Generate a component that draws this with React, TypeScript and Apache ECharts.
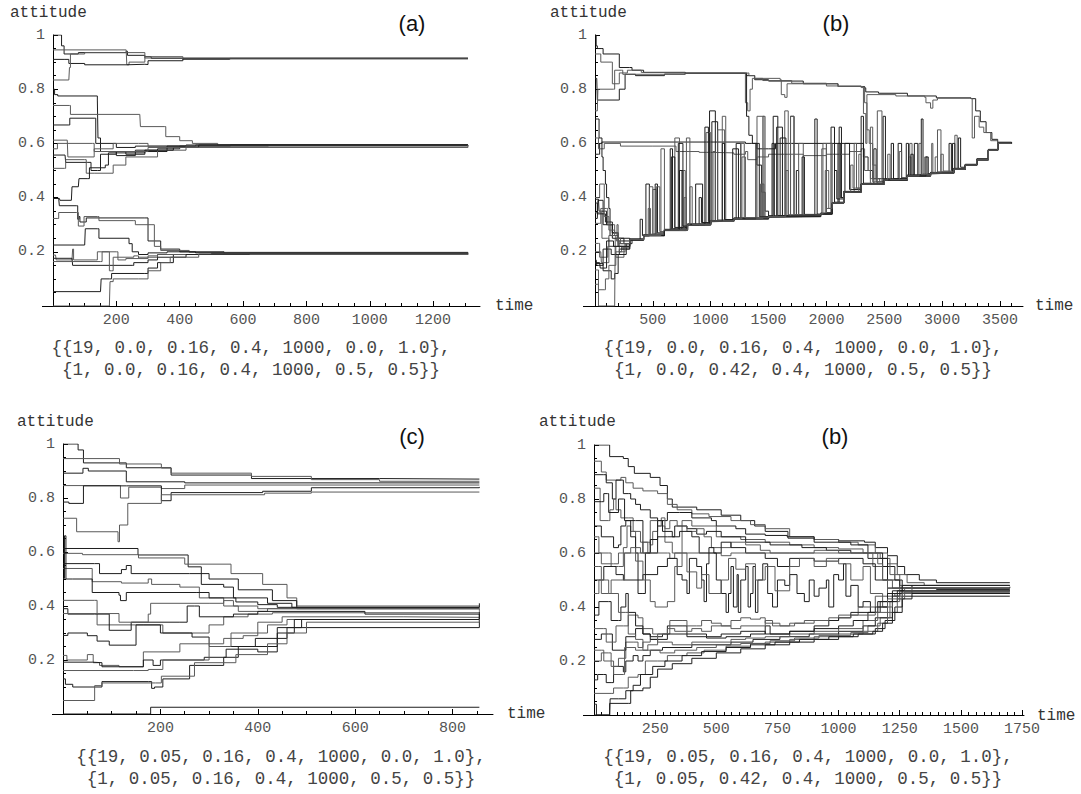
import React, { useEffect, useRef } from "react";
import * as echarts from "echarts";

type Pt = [number, number];

// ---------- tick labels & captions ----------
const timeLabelsA = [200, 400, 600, 800, 1000, 1200];
const timeLabelsB = [500, 1000, 1500, 2000, 2500, 3000, 3500];
const timeLabelsC = [200, 400, 600, 800];
const timeLabelsD = [250, 500, 750, 1000, 1250, 1500, 1750];

const captionA = ["{{19, 0.0, 0.16, 0.4, 1000, 0.0, 1.0},", "{1, 0.0, 0.16, 0.4, 1000, 0.5, 0.5}}"];
const captionB = ["{{19, 0.0, 0.16, 0.4, 1000, 0.0, 1.0},", "{1, 0.0, 0.42, 0.4, 1000, 0.5, 0.5}}"];
const captionC = ["{{19, 0.05, 0.16, 0.4, 1000, 0.0, 1.0},", "{1, 0.05, 0.16, 0.4, 1000, 0.5, 0.5}}"];
const captionD = ["{{19, 0.05, 0.16, 0.4, 1000, 0.0, 1.0},", "{1, 0.05, 0.42, 0.4, 1000, 0.5, 0.5}}"];
const panelTitles = ["(a)", "(b)", "(c)", "(b)"];

// ---------- panel (a) trajectories [time, attitude] ----------
const panelATop: Pt[][] = [
  [[0,1.0],[27,0.96],[35,0.93],[80,0.935],[231,0.94],[235,0.925],[290,0.92],[310,0.914],[1310,0.914]],
  [[0,0.945],[231,0.945],[233,0.89],[240,0.9],[290,0.92],[410,0.91],[558,0.914],[1310,0.914]],
  [[0,0.91],[35,0.91],[50,0.895],[100,0.89],[231,0.892],[290,0.891],[300,0.905],[410,0.912],[1310,0.914]],
  [[0,0.834],[50,0.834],[52,0.88],[55,0.93],[80,0.93],[100,0.935],[235,0.935],[290,0.915],[1310,0.914]],
];
const panelAMid: Pt[][] = [
  [[0,0.8],[5,0.78],[15,0.775],[140,0.76],[142,0.62],[150,0.6],[200,0.585],[260,0.59],[420,0.594],[1310,0.594]],
  [[0,0.74],[52,0.74],[55,0.707],[274,0.707],[276,0.662],[353,0.662],[356,0.625],[400,0.61],[440,0.6],[520,0.594],[1310,0.594]],
  [[0,0.668],[50,0.668],[53,0.693],[132,0.693],[135,0.6],[150,0.57],[200,0.555],[260,0.575],[330,0.58],[400,0.59],[560,0.594],[1310,0.594]],
  [[0,0.612],[45,0.612],[47,0.55],[120,0.55],[130,0.58],[190,0.6],[270,0.6],[300,0.59],[680,0.594],[1310,0.594]],
  [[0,0.557],[38,0.557],[40,0.53],[110,0.53],[120,0.5],[140,0.5],[150,0.56],[200,0.57],[230,0.56],[290,0.57],[360,0.59],[450,0.594],[1310,0.594]],
  [[0,0.508],[36,0.508],[40,0.54],[100,0.54],[105,0.49],[130,0.49],[190,0.52],[230,0.55],[330,0.575],[420,0.59],[1310,0.594]],
  [[0,0.397],[20,0.397],[22,0.39],[58,0.39],[60,0.44],[80,0.44],[82,0.47],[110,0.47],[115,0.51],[165,0.52],[175,0.565],[290,0.575],[380,0.585],[460,0.594],[1310,0.594]],
  [[0,0.58],[10,0.58],[14,0.6],[125,0.6],[130,0.57],[300,0.585],[1310,0.594]],
];
const panelALow: Pt[][] = [
  [[0,0.397],[18,0.397],[20,0.37],[75,0.37],[78,0.32],[82,0.33],[85,0.31],[100,0.31],[105,0.325],[290,0.325],[300,0.24],[340,0.21],[400,0.2],[540,0.194],[1310,0.194]],
  [[0,0.323],[15,0.323],[18,0.345],[75,0.345],[80,0.295],[95,0.295],[98,0.33],[140,0.33],[145,0.315],[255,0.315],[260,0.3],[320,0.22],[340,0.205],[430,0.198],[1310,0.194]],
  [[0,0.225],[100,0.225],[102,0.285],[140,0.285],[145,0.25],[240,0.23],[250,0.2],[270,0.19],[300,0.196],[360,0.2],[450,0.196],[1310,0.194]],
  [[0,0.188],[8,0.188],[10,0.17],[60,0.17],[62,0.21],[65,0.17],[135,0.17],[140,0.2],[200,0.2],[205,0.17],[230,0.175],[270,0.18],[330,0.19],[1310,0.194]],
  [[0,0.176],[60,0.176],[62,0.15],[250,0.15],[255,0.16],[300,0.17],[330,0.18],[380,0.19],[500,0.194],[1310,0.194]],
  [[0,0.164],[150,0.164],[155,0.2],[175,0.2],[178,0.13],[185,0.13],[190,0.18],[255,0.185],[270,0.175],[300,0.185],[330,0.19],[1310,0.194]],
  [[0,0.053],[150,0.053],[152,0.1],[178,0.1],[185,0.12],[290,0.12],[300,0.14],[330,0.16],[380,0.18],[420,0.19],[620,0.194],[1310,0.194]],
  [[0,0],[178,0],[180,0.09],[190,0.1],[270,0.1],[300,0.13],[340,0.16],[370,0.18],[460,0.192],[1310,0.194]],
];

// ---------- panel (b) ----------
const panelBUpper: Pt[][] = [
  [[0,1.0],[10,0.96],[20,0.95],[60,0.95],[70,0.93],[200,0.93],[210,0.88],[300,0.88],[320,0.87],[420,0.862],[780,0.859],[1300,0.859],[1310,0.85],[1380,0.835],[1500,0.83],[1800,0.82],[2100,0.81],[2330,0.805],[2340,0.79],[2450,0.785],[2700,0.775],[2950,0.768],[3250,0.765],[3290,0.72],[3330,0.68],[3380,0.64],[3430,0.615],[3480,0.604],[3600,0.604]],
  [[0,0.93],[40,0.93],[50,0.9],[140,0.9],[150,0.82],[200,0.82],[210,0.86],[280,0.87],[400,0.862],[780,0.859],[1290,0.859],[1300,0.75],[1320,0.72],[1340,0.8],[1360,0.84],[1450,0.832],[1700,0.822],[2000,0.812],[2300,0.806],[2320,0.71],[2340,0.6],[2350,0.78],[2600,0.775],[2850,0.77],[2860,0.75],[2900,0.73],[2920,0.76],[2960,0.767],[3240,0.765],[3260,0.62],[3280,0.7],[3320,0.66],[3360,0.64],[3420,0.61],[3480,0.604],[3600,0.604]],
  [[0,0.84],[15,0.84],[20,0.76],[200,0.76],[210,0.8],[250,0.8],[260,0.855],[350,0.85],[600,0.856],[780,0.859],[1290,0.859],[1300,0.86],[1310,0.7],[1330,0.63],[1360,0.6],[1400,0.52],[1440,0.42],[1470,0.35],[1500,0.33],[1690,0.7],[1720,0.337],[1950,0.34],[2050,0.38],[2110,0.66],[2130,0.4],[2150,0.42],[2300,0.45],[2410,0.58],[2430,0.458],[2500,0.465],[2700,0.48],[2760,0.6],[2790,0.484],[2900,0.49],[3100,0.505],[3200,0.52],[3300,0.54],[3400,0.575],[3480,0.6],[3600,0.602]],
  [[0,0.72],[20,0.72],[25,0.8],[160,0.8],[170,0.87],[230,0.87],[240,0.855],[780,0.859],[1300,0.859],[1310,0.86],[1330,0.85],[1380,0.84],[1600,0.835],[1610,0.78],[1640,0.77],[1660,0.82],[2100,0.81],[2320,0.806],[2330,0.75],[2350,0.65],[2370,0.6],[2400,0.52],[2430,0.47],[2460,0.46],[2500,0.465],[2700,0.48],[2710,0.55],[2730,0.48],[2900,0.49],[2910,0.6],[2920,0.49],[3100,0.505],[3200,0.52],[3300,0.54],[3400,0.575],[3480,0.6],[3600,0.603]],
];
const panelBMiddle: Pt[][] = [
  [[0,0.56],[30,0.56],[40,0.6],[60,0.605],[1300,0.6],[1350,0.6],[1400,0.58],[1500,0.58],[1560,0.6],[1700,0.6],[2300,0.6],[2320,0.55],[2360,0.5],[2400,0.47],[2500,0.468],[2700,0.483],[2900,0.492],[3100,0.507],[3200,0.522],[3300,0.542],[3400,0.577],[3480,0.6],[3600,0.604]],
  [[0,0.62],[20,0.62],[30,0.58],[70,0.58],[80,0.6],[220,0.59],[500,0.59],[700,0.57],[900,0.567],[1000,0.565],[1200,0.56],[1300,0.57],[1320,0.54],[1400,0.55],[1500,0.56],[1800,0.555],[2000,0.56],[2200,0.57],[2300,0.58],[2330,0.5],[2380,0.47],[2500,0.466],[2700,0.481],[2900,0.491],[3100,0.506],[3200,0.521],[3300,0.541],[3400,0.576],[3480,0.6],[3600,0.603]],
];
const panelBLower: Pt[][] = [
  [[0,0.394],[30,0.394],[35,0.35],[90,0.35],[100,0.3],[150,0.27],[200,0.24],[300,0.245],[420,0.26],[440,0.45],[470,0.26],[600,0.28],[800,0.3],[990,0.72],[1040,0.313],[1200,0.322],[1500,0.33],[1570,0.66],[1620,0.33],[1950,0.34],[2050,0.38],[2150,0.42],[2300,0.45],[2500,0.465],[2620,0.6],[2650,0.465],[2700,0.48],[2900,0.49],[3100,0.505],[3200,0.52],[3300,0.54],[3400,0.575],[3480,0.6],[3600,0.603]],
  [[0,0.344],[50,0.344],[60,0.25],[110,0.25],[120,0.22],[230,0.21],[300,0.245],[420,0.262],[500,0.43],[530,0.265],[600,0.282],[690,0.62],[730,0.29],[800,0.302],[1000,0.315],[1100,0.7],[1130,0.318],[1200,0.324],[1400,0.7],[1460,0.328],[1500,0.332],[1950,0.342],[1960,0.58],[2000,0.345],[2050,0.382],[2150,0.422],[2300,0.452],[2440,0.72],[2480,0.46],[2500,0.467],[2700,0.482],[2900,0.492],[3100,0.507],[3110,0.63],[3130,0.507],[3200,0.522],[3300,0.542],[3400,0.577],[3480,0.6],[3600,0.603]],
  [[0,0.323],[20,0.323],[25,0.39],[60,0.39],[70,0.3],[130,0.26],[200,0.22],[300,0.248],[420,0.263],[600,0.283],[720,0.6],[760,0.292],[800,0.303],[1000,0.316],[1010,0.68],[1060,0.317],[1200,0.325],[1500,0.333],[1540,0.7],[1580,0.334],[1950,0.343],[2040,0.66],[2070,0.383],[2150,0.423],[2300,0.7],[2320,0.453],[2500,0.468],[2700,0.483],[2820,0.69],[2835,0.486],[2900,0.493],[3100,0.508],[3200,0.523],[3300,0.543],[3400,0.578],[3480,0.6],[3600,0.602]],
  [[0,0.231],[30,0.231],[40,0.18],[100,0.18],[110,0.22],[180,0.18],[250,0.22],[300,0.242],[420,0.258],[470,0.44],[500,0.266],[600,0.278],[790,0.62],[820,0.298],[1000,0.312],[1060,0.65],[1120,0.318],[1200,0.321],[1500,0.329],[1640,0.72],[1670,0.336],[1950,0.339],[2000,0.6],[2050,0.379],[2150,0.419],[2240,0.6],[2260,0.435],[2300,0.449],[2500,0.464],[2700,0.479],[2900,0.489],[2960,0.65],[2990,0.495],[3100,0.504],[3200,0.519],[3300,0.539],[3400,0.574],[3480,0.6],[3600,0.603]],
  [[0,0.157],[60,0.157],[70,0.13],[140,0.1],[170,0.12],[200,0.19],[270,0.23],[320,0.245],[420,0.261],[520,0.45],[540,0.27],[600,0.281],[800,0.301],[870,0.45],[930,0.306],[1000,0.314],[1190,0.58],[1240,0.323],[1500,0.331],[1740,0.5],[1760,0.337],[1950,0.341],[2050,0.381],[2100,0.6],[2120,0.4],[2150,0.421],[2300,0.451],[2500,0.466],[2690,0.6],[2710,0.481],[2900,0.491],[3060,0.6],[3080,0.5],[3100,0.506],[3200,0.521],[3300,0.541],[3400,0.576],[3480,0.6],[3600,0.601]],
  [[0,0.133],[20,0.133],[30,0.06],[80,0.06],[90,0.1],[120,0.15],[180,0.2],[230,0.215],[300,0.246],[420,0.26],[600,0.279],[750,0.5],[780,0.296],[800,0.3],[960,0.64],[1000,0.314],[1200,0.322],[1440,0.45],[1460,0.328],[1500,0.33],[1760,0.6],[1800,0.337],[1950,0.34],[2050,0.38],[2150,0.42],[2300,0.45],[2380,0.66],[2400,0.458],[2500,0.465],[2700,0.48],[2850,0.55],[2870,0.488],[2900,0.49],[3100,0.505],[3200,0.52],[3300,0.54],[3400,0.575],[3480,0.6],[3600,0.602]],
  [[0,0.17],[10,0.17],[15,0.15],[60,0.15],[70,0.21],[130,0.21],[140,0.19],[210,0.21],[300,0.243],[420,0.259],[600,0.28],[800,0.299],[900,0.4],[920,0.308],[1000,0.313],[1200,0.322],[1220,0.6],[1260,0.324],[1500,0.33],[1600,0.62],[1650,0.334],[1900,0.69],[1920,0.339],[1950,0.34],[2050,0.38],[2150,0.42],[2160,0.6],[2200,0.43],[2300,0.45],[2490,0.7],[2510,0.466],[2700,0.48],[2900,0.49],[3100,0.505],[3140,0.62],[3160,0.512],[3200,0.52],[3300,0.54],[3400,0.575],[3480,0.6],[3600,0.602]],
  [[0,0.08],[20,0.08],[30,0.0],[170,0.0],[175,0.25],[185,0.24],[210,0.2],[260,0.22],[300,0.247],[420,0.262],[600,0.282],[800,0.302],[1000,0.315],[1200,0.323],[1260,0.6],[1290,0.326],[1500,0.331],[1690,0.7],[1720,0.337],[1950,0.341],[2050,0.381],[2150,0.421],[2300,0.451],[2500,0.466],[2700,0.481],[2720,0.6],[2740,0.482],[2900,0.491],[3100,0.506],[3200,0.521],[3300,0.541],[3400,0.576],[3480,0.6],[3600,0.601]],
  [[0,0.69],[20,0.69],[35,0.62],[60,0.55],[70,0.5],[90,0.45],[100,0.4],[120,0.36],[130,0.3],[150,0.27],[200,0.25],[300,0.245],[420,0.26],[600,0.28],[660,0.55],[690,0.29],[800,0.3],[1000,0.313],[1200,0.322],[1500,0.33],[1790,0.55],[1810,0.338],[1950,0.34],[2050,0.38],[2150,0.42],[2300,0.45],[2500,0.465],[2700,0.48],[2730,0.56],[2750,0.482],[2900,0.49],[3100,0.505],[3200,0.52],[3300,0.54],[3400,0.575],[3480,0.6],[3600,0.603]],
  [[0,0.305],[40,0.305],[50,0.36],[100,0.36],[110,0.3],[170,0.26],[190,0.3],[200,0.22],[260,0.23],[300,0.245],[420,0.26],[530,0.44],[560,0.275],[600,0.28],[800,0.3],[1000,0.313],[1020,0.57],[1040,0.315],[1200,0.322],[1430,0.45],[1450,0.328],[1500,0.33],[1950,0.34],[1990,0.5],[2020,0.36],[2050,0.38],[2150,0.42],[2280,0.56],[2300,0.45],[2500,0.465],[2700,0.48],[2900,0.49],[2990,0.56],[3010,0.498],[3100,0.505],[3200,0.52],[3300,0.54],[3400,0.575],[3480,0.6],[3600,0.602]],
  [[0,0.38],[10,0.38],[20,0.34],[80,0.34],[90,0.31],[140,0.31],[150,0.25],[250,0.23],[300,0.245],[420,0.26],[600,0.28],[650,0.58],[670,0.285],[800,0.3],[950,0.66],[980,0.311],[1000,0.313],[1200,0.322],[1500,0.33],[1530,0.6],[1550,0.332],[1950,0.34],[2050,0.38],[2070,0.5],[2090,0.395],[2150,0.42],[2300,0.45],[2500,0.465],[2560,0.6],[2580,0.47],[2700,0.48],[2900,0.49],[3090,0.6],[3110,0.505],[3200,0.52],[3300,0.54],[3400,0.575],[3480,0.6],[3600,0.603]],
  [[0,0.2],[50,0.2],[55,0.16],[110,0.16],[120,0.26],[180,0.25],[220,0.23],[300,0.245],[420,0.26],[460,0.36],[480,0.265],[600,0.28],[770,0.4],[790,0.298],[800,0.3],[1000,0.313],[1200,0.322],[1450,0.7],[1470,0.33],[1950,0.34],[2050,0.38],[2150,0.42],[2210,0.52],[2230,0.435],[2300,0.45],[2500,0.465],[2630,0.57],[2650,0.474],[2700,0.48],[2900,0.49],[2940,0.55],[2960,0.495],[3100,0.505],[3200,0.52],[3300,0.54],[3400,0.575],[3480,0.6],[3600,0.602]],
  [[0,0.16],[40,0.16],[45,0.14],[90,0.14],[100,0.24],[130,0.24],[160,0.22],[300,0.245],[390,0.32],[410,0.26],[600,0.28],[730,0.5],[760,0.295],[800,0.3],[1000,0.313],[1100,0.6],[1120,0.319],[1200,0.322],[1390,0.6],[1420,0.329],[1500,0.33],[1950,0.34],[2050,0.38],[2150,0.42],[2300,0.45],[2500,0.465],[2700,0.48],[2860,0.55],[2880,0.488],[2900,0.49],[3100,0.505],[3200,0.52],[3300,0.54],[3400,0.575],[3480,0.6],[3600,0.601]],
  [[0,0.4],[30,0.4],[40,0.45],[70,0.45],[80,0.33],[120,0.28],[170,0.27],[200,0.23],[300,0.245],[420,0.26],[570,0.58],[600,0.28],[800,0.3],[820,0.44],[840,0.301],[1000,0.313],[1200,0.322],[1270,0.55],[1300,0.325],[1500,0.33],[1650,0.5],[1670,0.336],[1950,0.34],[1970,0.6],[2000,0.36],[2050,0.38],[2150,0.42],[2300,0.45],[2500,0.465],[2530,0.56],[2550,0.467],[2700,0.48],[2800,0.6],[2820,0.486],[2900,0.49],[3100,0.505],[3200,0.52],[3300,0.54],[3400,0.575],[3480,0.6],[3600,0.602]],
];

// ---------- panel (c) ----------
const panelCTop: Pt[][] = [
  [[0,1.0],[31,0.978],[42,0.93],[130,0.912],[222,0.885],[387,0.872],[650,0.87],[855,0.87]],
  [[0,0.946],[116,0.926],[202,0.911],[222,0.892],[387,0.88],[510,0.868],[650,0.862],[855,0.862]],
  [[0,0.892],[41,0.91],[52,0.9],[130,0.86],[250,0.856],[855,0.855]],
  [[0,0.846],[116,0.846],[118,0.8],[135,0.84],[202,0.835],[250,0.848],[855,0.848]],
  [[0,0.785],[12,0.78],[42,0.845],[130,0.845],[202,0.79],[222,0.82],[410,0.825],[510,0.838],[855,0.841]],
  [[0,0.725],[28,0.675],[113,0.638],[116,0.7],[133,0.78],[202,0.812],[414,0.818],[510,0.822],[855,0.822]],
];
const panelCLow: Pt[][] = [
  [[0,0.613],[154,0.589],[257,0.545],[284,0.48],[330,0.47],[350,0.43],[420,0.41],[470,0.395],[855,0.395]],
  [[0,0.595],[40,0.59],[155,0.578],[250,0.555],[345,0.52],[410,0.48],[460,0.43],[480,0.4],[855,0.4]],
  [[0,0.557],[65,0.557],[75,0.52],[120,0.535],[130,0.55],[140,0.52],[260,0.52],[300,0.5],[360,0.46],[430,0.42],[480,0.39],[855,0.388]],
  [[0,0.539],[60,0.49],[120,0.485],[175,0.5],[182,0.48],[240,0.47],[280,0.43],[330,0.4],[360,0.38],[420,0.39],[855,0.382]],
  [[0,0.502],[3,0.66],[6,0.5],[20,0.5],[60,0.45],[115,0.44],[118,0.42],[130,0.45],[275,0.45],[300,0.43],[355,0.415],[400,0.405],[440,0.395],[855,0.41]],
  [[0,0.421],[65,0.421],[70,0.33],[165,0.33],[205,0.3],[260,0.3],[300,0.33],[330,0.36],[380,0.37],[430,0.375],[855,0.375]],
  [[0,0.39],[10,0.37],[65,0.37],[95,0.31],[140,0.34],[240,0.34],[255,0.4],[270,0.4],[280,0.36],[350,0.37],[400,0.38],[620,0.37],[855,0.365]],
  [[0,0.372],[115,0.34],[175,0.37],[180,0.41],[300,0.41],[330,0.42],[350,0.4],[400,0.39],[855,0.392]],
  [[0,0.291],[10,0.3],[50,0.29],[70,0.27],[95,0.255],[150,0.33],[200,0.3],[265,0.285],[300,0.25],[330,0.25],[395,0.28],[440,0.32],[490,0.35],[855,0.355]],
  [[0,0.217],[8,0.2],[50,0.22],[62,0.19],[75,0.18],[115,0.175],[165,0.23],[240,0.26],[330,0.28],[370,0.29],[400,0.34],[450,0.36],[700,0.358],[855,0.358]],
  [[0,0.192],[60,0.19],[80,0.175],[150,0.175],[165,0.2],[185,0.18],[200,0.2],[290,0.21],[335,0.24],[400,0.23],[440,0.28],[460,0.32],[855,0.37]],
  [[0,0.161],[145,0.161],[175,0.165],[205,0.2],[300,0.25],[345,0.3],[420,0.33],[460,0.35],[855,0.362]],
  [[0,0.13],[5,0.11],[20,0.1],[80,0.12],[175,0.12],[182,0.095],[188,0.1],[205,0.13],[260,0.18],[330,0.21],[360,0.25],[440,0.3],[475,0.35],[855,0.38]],
  [[0,0.05],[65,0.105],[80,0.115],[190,0.115],[202,0.14],[270,0.19],[355,0.22],[420,0.26],[460,0.3],[500,0.34],[855,0.352]],
  [[0,0],[176,0],[180,0.025],[855,0.025]],
];

// ---------- panel (d) ----------
const panelDUpper: Pt[][] = [
  [[0,1.0],[60,1.0],[64,0.957],[120,0.95],[140,0.92],[165,0.895],[230,0.88],[270,0.85],[300,0.8],[320,0.77],[420,0.76],[520,0.74],[600,0.72],[657,0.7],[700,0.68],[793,0.655],[900,0.65],[1000,0.645],[1106,0.64],[1150,0.62],[1200,0.59],[1240,0.55],[1270,0.52],[1330,0.5],[1400,0.49],[1700,0.49]],
  [[0,0.94],[20,0.94],[30,0.9],[50,0.87],[100,0.87],[110,0.88],[130,0.86],[160,0.84],[200,0.83],[260,0.82],[300,0.78],[340,0.76],[400,0.745],[470,0.735],[560,0.72],[640,0.705],[700,0.69],[800,0.66],[900,0.65],[1000,0.64],[1080,0.63],[1150,0.6],[1200,0.56],[1240,0.52],[1280,0.49],[1350,0.48],[1700,0.48]],
  [[0,0.89],[40,0.89],[50,0.86],[75,0.8],[90,0.87],[110,0.87],[120,0.82],[140,0.82],[150,0.8],[170,0.78],[190,0.76],[230,0.73],[260,0.72],[290,0.72],[300,0.75],[350,0.75],[400,0.73],[480,0.72],[500,0.7],[580,0.69],[620,0.67],[700,0.665],[790,0.66],[900,0.64],[1050,0.63],[1120,0.6],[1180,0.55],[1230,0.5],[1260,0.47],[1700,0.47]],
  [[0,0.84],[20,0.84],[25,0.72],[60,0.72],[65,0.76],[80,0.8],[90,0.76],[110,0.73],[140,0.73],[160,0.68],[190,0.64],[220,0.6],[230,0.72],[260,0.7],[275,0.73],[290,0.64],[320,0.6],[360,0.72],[400,0.7],[450,0.7],[500,0.66],[560,0.66],[600,0.65],[700,0.64],[800,0.63],[900,0.62],[1000,0.615],[1100,0.6],[1170,0.58],[1210,0.52],[1250,0.48],[1300,0.46],[1700,0.46]],
  [[0,0.79],[30,0.79],[40,0.82],[55,0.82],[60,0.75],[90,0.75],[100,0.8],[120,0.8],[125,0.72],[170,0.72],[200,0.6],[240,0.6],[260,0.66],[300,0.66],[330,0.7],[380,0.69],[420,0.67],[460,0.68],[520,0.66],[620,0.64],[720,0.63],[850,0.62],[950,0.61],[1050,0.6],[1120,0.58],[1200,0.5],[1250,0.47],[1400,0.465],[1700,0.465]],
  [[0,0.66],[15,0.66],[20,0.6],[60,0.6],[70,0.55],[100,0.55],[120,0.62],[135,0.7],[150,0.68],[170,0.62],[190,0.6],[200,0.64],[230,0.63],[240,0.68],[260,0.7],[290,0.69],[310,0.72],[340,0.7],[380,0.68],[420,0.69],[450,0.66],[480,0.62],[520,0.62],[560,0.64],[620,0.63],[680,0.61],[720,0.6],[800,0.6],[900,0.61],[1000,0.6],[1100,0.6],[1140,0.55],[1180,0.5],[1220,0.47],[1270,0.455],[1700,0.455]],
  [[0,0.7],[20,0.7],[30,0.66],[70,0.66],[80,0.62],[100,0.63],[110,0.7],[130,0.72],[150,0.66],[170,0.6],[180,0.45],[200,0.45],[210,0.6],[230,0.65],[260,0.72],[280,0.68],[320,0.66],[350,0.68],[400,0.66],[430,0.6],[470,0.6],[520,0.64],[560,0.62],[620,0.6],[700,0.58],[750,0.55],[800,0.58],[900,0.57],[1000,0.58],[1100,0.56],[1150,0.5],[1200,0.47],[1260,0.47],[1700,0.475]],
];
const panelDMiddle: Pt[][] = [
  [[0,0.6],[20,0.6],[30,0.56],[80,0.56],[100,0.6],[300,0.6],[310,0.58],[330,0.6],[500,0.6],[520,0.59],[560,0.6],[1150,0.6],[1160,0.56],[1180,0.5],[1200,0.45],[1230,0.44],[1260,0.47],[1300,0.48],[1700,0.48]],
  [[0,0.5],[30,0.5],[40,0.55],[80,0.55],[90,0.52],[120,0.5],[200,0.52],[260,0.55],[300,0.58],[340,0.52],[360,0.5],[380,0.45],[390,0.58],[420,0.55],[440,0.5],[450,0.42],[460,0.56],[470,0.62],[490,0.6],[500,0.5],[520,0.45],[540,0.38],[550,0.45],[560,0.55],[570,0.4],[585,0.52],[590,0.38],[600,0.5],[620,0.55],[630,0.4],[640,0.45],[650,0.55],[660,0.38],[670,0.5],[690,0.56],[710,0.45],[730,0.4],[750,0.5],[780,0.48],[800,0.52],[830,0.45],[860,0.42],[880,0.5],[900,0.44],[920,0.47],[950,0.5],[960,0.4],[980,0.52],[1000,0.5],[1020,0.56],[1030,0.44],[1050,0.48],[1080,0.4],[1100,0.42],[1130,0.38],[1160,0.42],[1200,0.36],[1220,0.44],[1250,0.46],[1300,0.45],[1700,0.45]],
  [[0,0.55],[20,0.55],[30,0.45],[60,0.45],[70,0.5],[110,0.5],[125,0.6],[150,0.62],[170,0.57],[200,0.5],[230,0.42],[250,0.4],[300,0.42],[330,0.55],[360,0.6],[380,0.53],[420,0.47],[440,0.52],[470,0.45],[520,0.5],[550,0.58],[580,0.54],[620,0.56],[660,0.5],[700,0.55],[740,0.46],[800,0.55],[840,0.58],[900,0.55],[950,0.58],[1000,0.56],[1050,0.5],[1100,0.55],[1130,0.45],[1180,0.4],[1220,0.45],[1260,0.46],[1700,0.46]],
];
const panelDLower: Pt[][] = [
  [[0,0.0],[60,0.0],[64,0.043],[140,0.043],[150,0.09],[200,0.1],[230,0.14],[260,0.17],[320,0.19],[400,0.21],[500,0.23],[600,0.245],[700,0.26],[800,0.27],[900,0.28],[1000,0.29],[1080,0.3],[1150,0.32],[1190,0.35],[1230,0.4],[1260,0.44],[1700,0.44]],
  [[0,0.08],[70,0.08],[80,0.1],[120,0.1],[140,0.14],[180,0.15],[210,0.2],[260,0.2],[300,0.22],[380,0.23],[450,0.24],[540,0.255],[640,0.265],[720,0.275],[820,0.285],[920,0.295],[1050,0.305],[1120,0.33],[1170,0.36],[1210,0.42],[1250,0.45],[1700,0.45]],
  [[0,0.13],[10,0.13],[15,0.15],[40,0.15],[50,0.12],[70,0.12],[80,0.18],[120,0.16],[130,0.2],[160,0.22],[180,0.2],[200,0.22],[230,0.24],[280,0.25],[400,0.26],[560,0.27],[650,0.28],[760,0.29],[880,0.3],[1000,0.31],[1100,0.33],[1150,0.36],[1200,0.42],[1240,0.46],[1700,0.46]],
  [[0,0.2],[20,0.2],[30,0.23],[60,0.23],[70,0.18],[95,0.18],[100,0.21],[130,0.27],[160,0.27],[180,0.25],[200,0.27],[230,0.28],[260,0.27],[320,0.26],[400,0.27],[560,0.28],[620,0.285],[700,0.29],[800,0.3],[900,0.31],[1000,0.32],[1100,0.35],[1160,0.4],[1200,0.44],[1250,0.47],[1700,0.47]],
  [[0,0.28],[25,0.28],[30,0.3],[60,0.3],[75,0.24],[110,0.24],[130,0.29],[170,0.32],[200,0.3],[230,0.29],[280,0.3],[300,0.33],[360,0.33],[380,0.3],[460,0.29],[520,0.3],[600,0.31],[700,0.3],[800,0.31],[900,0.32],[1000,0.33],[1060,0.35],[1120,0.38],[1170,0.42],[1220,0.46],[1700,0.46]],
  [[0,0.32],[40,0.32],[50,0.27],[80,0.27],[90,0.33],[120,0.33],[140,0.37],[180,0.36],[200,0.32],[240,0.3],[300,0.3],[310,0.35],[360,0.35],[380,0.33],[420,0.33],[440,0.35],[480,0.34],[520,0.33],[560,0.35],[600,0.36],[640,0.355],[680,0.36],[700,0.34],[760,0.33],[820,0.34],[900,0.35],[1000,0.37],[1080,0.4],[1150,0.44],[1200,0.47],[1700,0.47]],
  [[0,0.37],[10,0.37],[20,0.42],[60,0.42],[70,0.35],[100,0.35],[110,0.4],[130,0.45],[140,0.38],[170,0.33],[200,0.3],[230,0.28],[300,0.3],[380,0.29],[460,0.285],[540,0.29],[640,0.3],[700,0.33],[720,0.3],[800,0.31],[900,0.33],[960,0.35],[1000,0.36],[1050,0.38],[1150,0.4],[1200,0.45],[1260,0.48],[1700,0.48]],
  [[0,0.45],[15,0.45],[20,0.5],[50,0.5],[60,0.45],[90,0.45],[100,0.38],[130,0.38],[140,0.3],[170,0.28],[200,0.24],[270,0.23],[330,0.24],[420,0.25],[500,0.26],[600,0.265],[700,0.27],[800,0.28],[900,0.29],[1000,0.3],[1100,0.31],[1160,0.34],[1200,0.38],[1240,0.43],[1270,0.46],[1700,0.46]],
  [[0,0.04],[5,0.04],[10,0.0],[64,0.0],[66,0.06],[100,0.06],[130,0.09],[160,0.11],[190,0.15],[240,0.18],[290,0.2],[360,0.22],[440,0.235],[540,0.25],[640,0.26],[740,0.27],[840,0.28],[960,0.29],[1060,0.3],[1140,0.31],[1180,0.34],[1220,0.38],[1260,0.43],[1300,0.45],[1700,0.45]],
  [[0,0.24],[30,0.24],[40,0.2],[70,0.2],[80,0.15],[120,0.15],[125,0.25],[170,0.24],[220,0.26],[260,0.3],[300,0.32],[330,0.31],[400,0.32],[440,0.31],[480,0.33],[560,0.32],[600,0.33],[700,0.35],[730,0.33],[800,0.34],[860,0.35],[960,0.36],[1050,0.37],[1150,0.38],[1200,0.43],[1260,0.455],[1700,0.455]],
];

// ---------- layout (pixels) ----------
type PanelLayout = {
  left: number; top: number; width: number; height: number; axisStart: number;
  max: number; labels: number[]; minorStep: number; minorEnd: number;
  trajectories: Pt[][];
};

const panels: PanelLayout[] = [
  { left: 53, top: 35, width: 427, height: 271, axisStart: 42, max: 1348, labels: timeLabelsA, minorStep: 50, minorEnd: 1300,
    trajectories: [...panelATop, ...panelAMid, ...panelALow] },
  { left: 595, top: 35, width: 428, height: 271, axisStart: 583, max: 3699, labels: timeLabelsB, minorStep: 100, minorEnd: 3600,
    trajectories: [...panelBUpper, ...panelBMiddle, ...panelBLower] },
  { left: 63, top: 444, width: 430, height: 270, axisStart: 52, max: 883, labels: timeLabelsC, minorStep: 50, minorEnd: 850,
    trajectories: [...panelCTop, ...panelCLow] },
  { left: 594, top: 445, width: 430, height: 270, axisStart: 583, max: 1758, labels: timeLabelsD, minorStep: 31.25, minorEnd: 1750,
    trajectories: [...panelDUpper, ...panelDMiddle, ...panelDLower] },
];

const MONO = "'Liberation Mono', 'DejaVu Sans Mono', monospace";
const SANS = "'Liberation Sans', Arial, sans-serif";
const LABEL_GREY = "#555";

function minorTicks(step: number, end: number, labels: number[]): number[] {
  const out: number[] = [];
  for (let k = 1; k * step <= end + 1e-6; k++) {
    const v = k * step;
    if (!labels.some((l) => Math.abs(l - v) < 1e-6)) out.push(v);
  }
  return out;
}

function buildOption() {
  const grid: any[] = [];
  const xAxis: any[] = [];
  const yAxis: any[] = [];
  const series: any[] = [];
  const graphic: any[] = [];

  panels.forEach((p, i) => {
    grid.push({ left: p.left, top: p.top, width: p.width, height: p.height, containLabel: false });
    xAxis.push({
      type: "value", gridIndex: i, position: "bottom", min: 0, max: p.max,
      axisLine: { show: true, onZero: false, lineStyle: { color: "#000", width: 1 } },
      axisTick: { show: true, inside: true, length: 5, customValues: p.labels, lineStyle: { color: "#000", width: 1 } },
      axisLabel: { show: true, customValues: p.labels, color: LABEL_GREY, fontFamily: MONO, fontSize: 15, margin: 7,
        formatter: (v: number) => String(v) },
      splitLine: { show: false },
    });
    xAxis.push({
      type: "value", gridIndex: i, position: "bottom", min: 0, max: p.max,
      axisLine: { show: false, onZero: false },
      axisTick: { show: true, inside: true, length: 3, customValues: minorTicks(p.minorStep, p.minorEnd, p.labels),
        lineStyle: { color: "#000", width: 1 } },
      axisLabel: { show: false },
      splitLine: { show: false },
    });
    yAxis.push({
      type: "value", gridIndex: i, position: "left", min: 0, max: 1, interval: 0.2,
      axisLine: { show: true, onZero: false, lineStyle: { color: "#000", width: 1 } },
      axisTick: { show: true, inside: true, length: 5, lineStyle: { color: "#000" } },
      minorTick: { show: true, splitNumber: 4, length: 3, lineStyle: { color: "#000" } },
      axisLabel: {
        color: LABEL_GREY, fontFamily: MONO, fontSize: 15, margin: 8,
        formatter: (v: number) => (v === 0 ? "" : Math.abs(v - 1) < 1e-9 ? "1" : v.toFixed(1)),
      },
      splitLine: { show: false },
    });
    // x-axis line continues a little to the left of the attitude axis
    const yb = p.top + p.height + 0.5;
    graphic.push({ type: "line", silent: true, shape: { x1: p.axisStart, y1: yb, x2: p.left, y2: yb },
      style: { stroke: "#000", lineWidth: 1 } });
    p.trajectories.forEach((traj, j) => {
      series.push({
        type: "line", xAxisIndex: 2 * i, yAxisIndex: i, data: traj, step: "end",
        showSymbol: false, symbol: "none", silent: true,
        lineStyle: { width: 1, color: j % 2 === 0 ? "#1e1e1e" : "#5a5a5a" },
        z: 1,
      });
    });
  });

  const txt = (x: number, y: number, text: string, opts: any = {}) => ({
    type: "text", x, y, silent: true,
    style: {
      text, fill: opts.fill || "#333", fontSize: opts.fontSize || 16, fontFamily: opts.fontFamily || MONO,
      align: opts.align || "left", verticalAlign: "middle",
    },
  });
  const title = { fontFamily: SANS, fontSize: 22, align: "center", fill: "#111" };
  const cap = { fontSize: 17.5, align: "center", fill: "#444" };

  graphic.push(
    txt(10, 13, "attitude"), txt(550, 13, "attitude"), txt(17, 422, "attitude"), txt(539, 422, "attitude"),
    txt(495, 306, "time"), txt(1035, 306, "time"), txt(507, 714, "time"), txt(1037, 716, "time"),
    txt(412, 23, panelTitles[0], title),
    txt(836, 23, panelTitles[1], title),
    txt(412, 436, panelTitles[2], title),
    txt(835, 436, panelTitles[3], title),
    txt(251, 348, captionA[0], cap),
    txt(251, 370, captionA[1], cap),
    txt(803, 348, captionB[0], cap),
    txt(803, 370, captionB[1], cap),
    txt(281, 757, captionC[0], cap),
    txt(281, 779, captionC[1], cap),
    txt(808, 757, captionD[0], cap),
    txt(808, 779, captionD[1], cap),
  );

  return { animation: false, backgroundColor: "#fff", grid, xAxis, yAxis, series, graphic };
}

export default function App() {
  const ref = useRef<HTMLDivElement>(null);
  useEffect(() => {
    if (!ref.current) return;
    const chart = echarts.init(ref.current, undefined, { renderer: "svg" });
    chart.setOption(buildOption() as any);
    return () => chart.dispose();
  }, []);
  return (
    <div
      ref={ref}
      style={{ position: "absolute", left: 0, top: 0, width: 1081, height: 794, background: "#fff" }}
    />
  );
}
